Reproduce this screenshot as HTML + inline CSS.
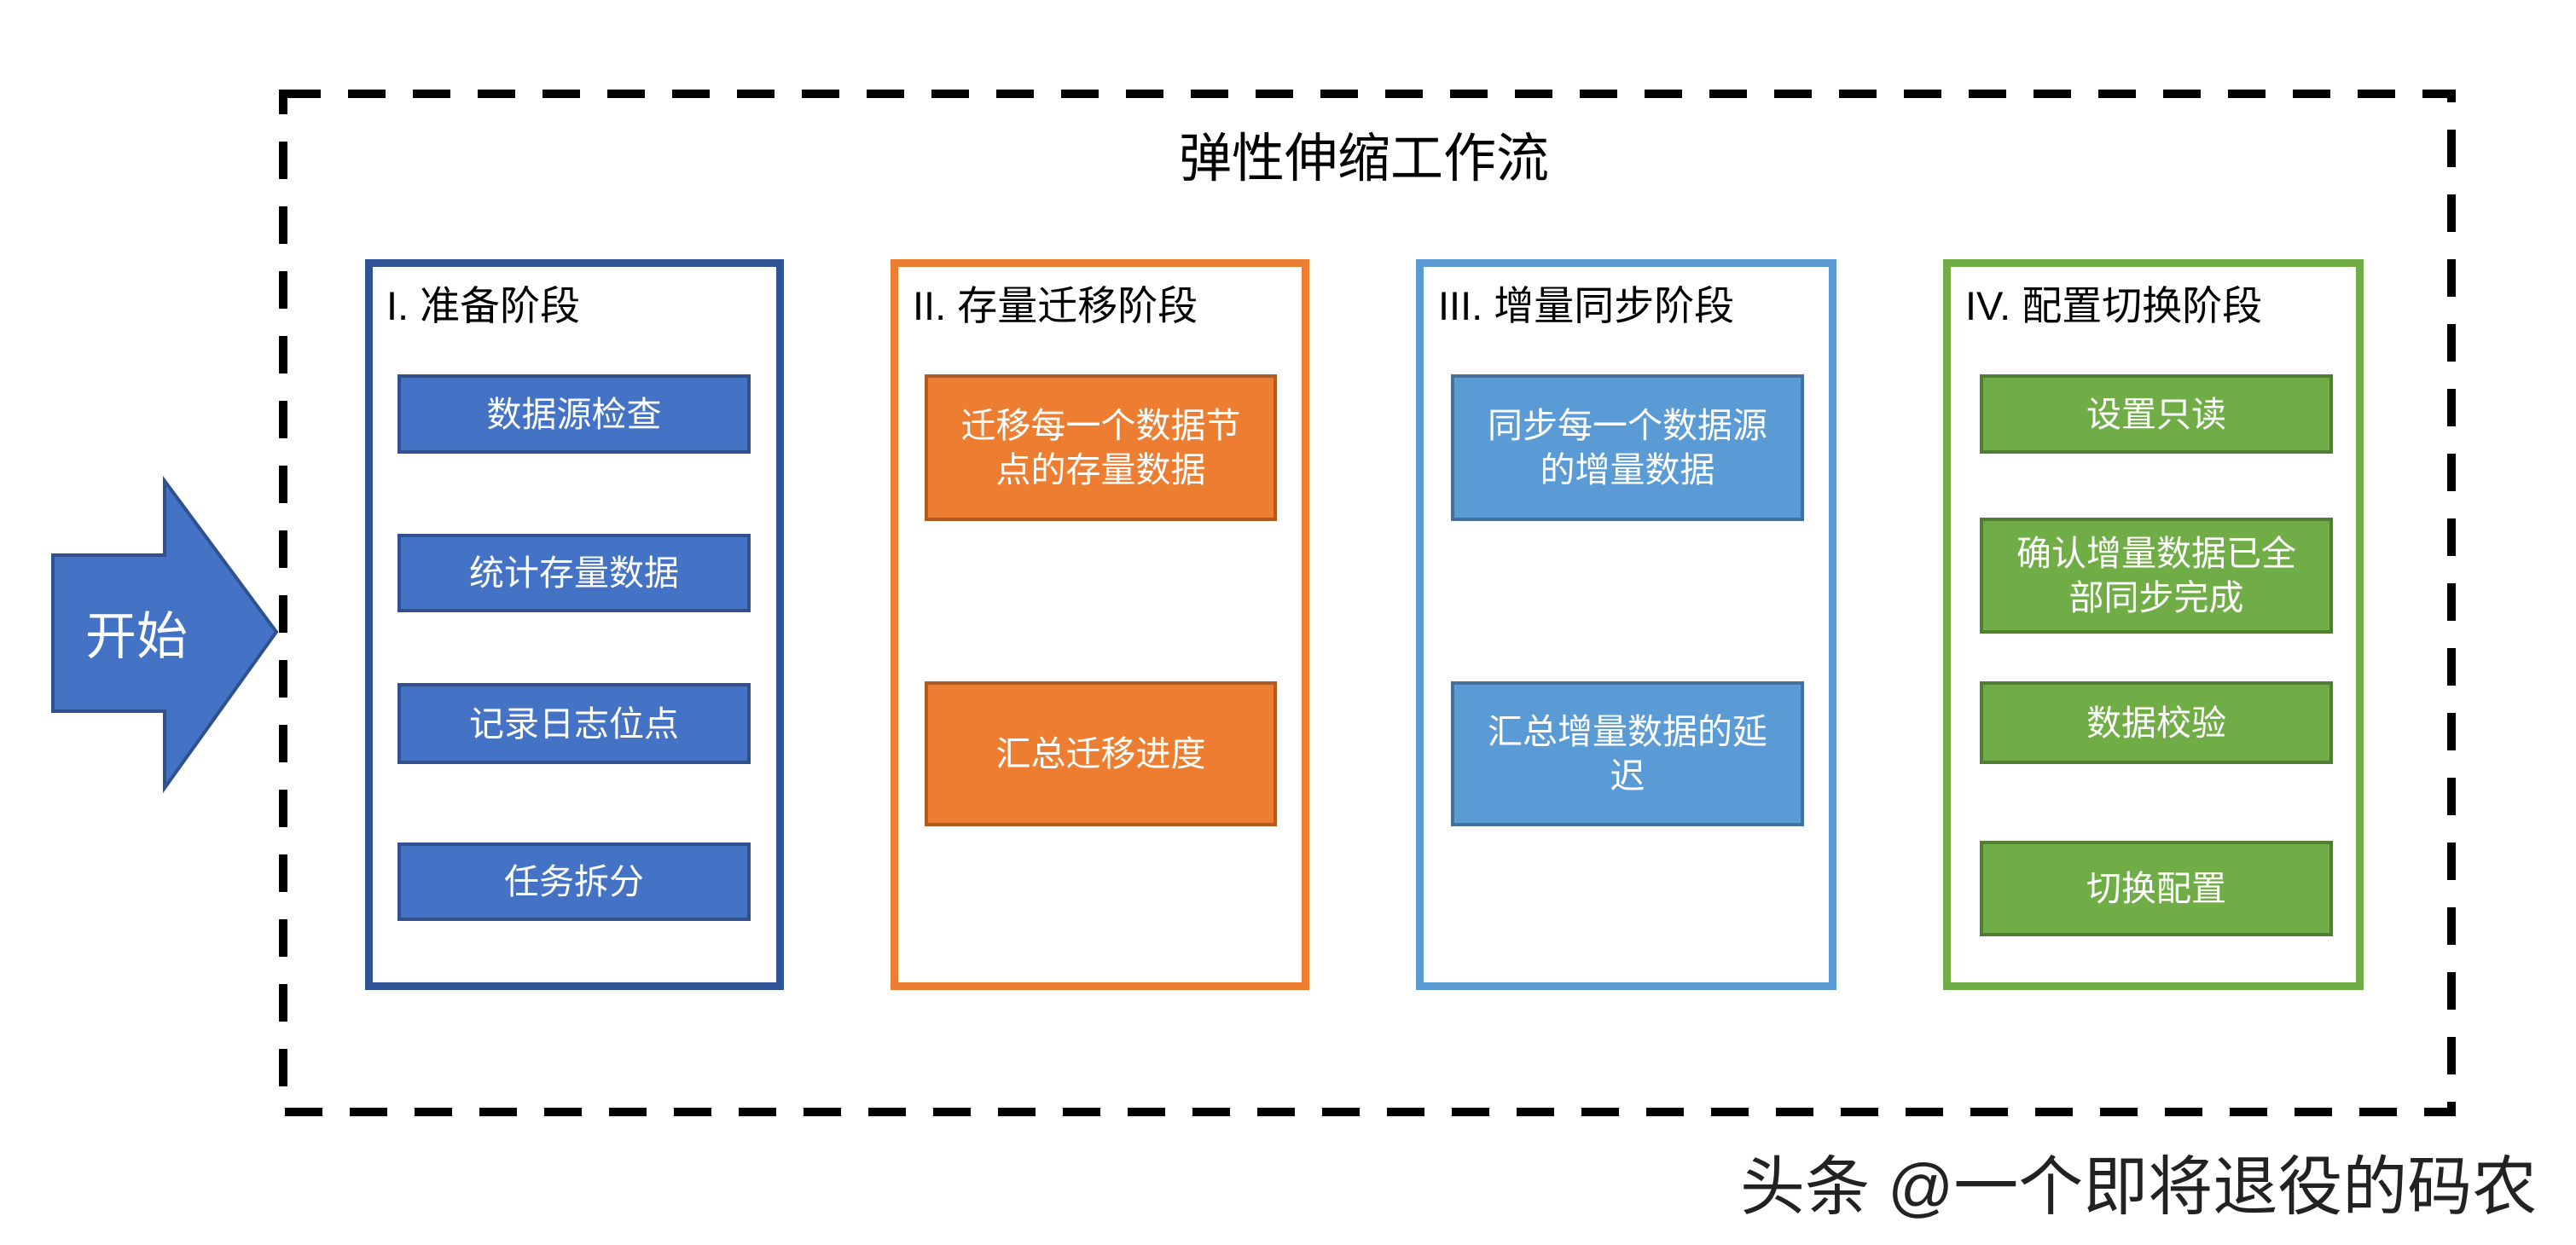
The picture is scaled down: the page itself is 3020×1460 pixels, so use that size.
<!DOCTYPE html>
<html><head><meta charset="utf-8"><style>
html,body{margin:0;padding:0;background:#fff;}
body{width:3020px;height:1460px;position:relative;overflow:hidden;font-family:"Liberation Sans","Noto Sans CJK SC",sans-serif;}
.p{position:absolute;box-sizing:border-box;border:9px solid;background:#fff;}
.pt{position:absolute;font-size:47px;color:#000;white-space:nowrap;}
.b{position:absolute;box-sizing:border-box;border:4px solid;color:#fff;font-size:41px;display:flex;align-items:center;justify-content:center;text-align:center;line-height:52px;padding:0 30px;}
.bl{background:#4472C4;border-color:#2F528F;}
.or{background:#ED7D31;border-color:#AE5A21;}
.lb{background:#5B9BD5;border-color:#41719C;}
.gr{background:#70AD47;border-color:#507E32;}
</style></head><body>
<svg width="3020" height="1460" style="position:absolute;left:0;top:0">
<rect x="332" y="110" width="2542" height="1194" fill="none" stroke="#000" stroke-width="10" stroke-dasharray="44 32"/>
<polygon points="62,651 193,651 193,564 324,741 193,924 193,834 62,834" fill="#4472C4" stroke="#2F528F" stroke-width="4"/>
<text x="160" y="767" font-size="60" fill="#fff" text-anchor="middle" font-family="Liberation Sans, Noto Sans CJK SC, sans-serif">开始</text>
<text x="1599" y="207" font-size="62" fill="#000" text-anchor="middle" font-family="Liberation Sans, Noto Sans CJK SC, sans-serif">弹性伸缩工作流</text>
</svg>
<div class="p" style="left:428px;top:304px;width:491px;height:857px;border-color:#2F5597"></div>
<div class="p" style="left:1044px;top:304px;width:491px;height:857px;border-color:#ED7D31"></div>
<div class="p" style="left:1660px;top:304px;width:493px;height:857px;border-color:#5B9BD5"></div>
<div class="p" style="left:2278px;top:304px;width:493px;height:857px;border-color:#70AD47"></div>
<div class="pt" style="left:453px;top:320px">I. 准备阶段</div>
<div class="pt" style="left:1070px;top:320px">II. 存量迁移阶段</div>
<div class="pt" style="left:1686px;top:320px">III. 增量同步阶段</div>
<div class="pt" style="left:2304px;top:320px">IV. 配置切换阶段</div>

<div class="b bl" style="left:466px;top:439px;width:414px;height:93px">数据源检查</div>
<div class="b bl" style="left:466px;top:626px;width:414px;height:92px">统计存量数据</div>
<div class="b bl" style="left:466px;top:801px;width:414px;height:95px">记录日志位点</div>
<div class="b bl" style="left:466px;top:988px;width:414px;height:92px">任务拆分</div>

<div class="b or" style="left:1084px;top:439px;width:413px;height:172px">迁移每一个数据节点的存量数据</div>
<div class="b or" style="left:1084px;top:799px;width:413px;height:170px">汇总迁移进度</div>

<div class="b lb" style="left:1701px;top:439px;width:414px;height:172px">同步每一个数据源的增量数据</div>
<div class="b lb" style="left:1701px;top:799px;width:414px;height:170px">汇总增量数据的延迟</div>

<div class="b gr" style="left:2321px;top:439px;width:414px;height:93px">设置只读</div>
<div class="b gr" style="left:2321px;top:607px;width:414px;height:136px">确认增量数据已全部同步完成</div>
<div class="b gr" style="left:2321px;top:799px;width:414px;height:97px">数据校验</div>
<div class="b gr" style="left:2321px;top:986px;width:414px;height:112px">切换配置</div>

<div style="position:absolute;left:2040px;top:1330px;font-size:76px;color:#222;white-space:nowrap;">头条 @一个即将退役的码农</div>
</body></html>
